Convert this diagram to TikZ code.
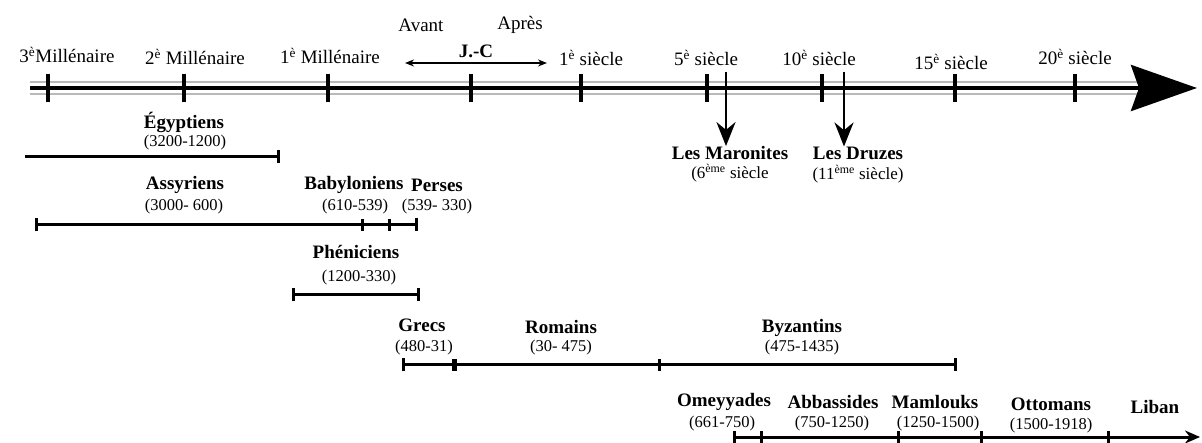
\documentclass[tikz,border=0pt]{standalone}
\usepackage{fontspec}
\setmainfont{Liberation Serif}
\usetikzlibrary{arrows.meta}
\newcommand{\expo}[1]{\textsuperscript{#1}}

\begin{document}
\begin{tikzpicture}[
  x=1pt, y=-1pt,
  era/.style={font=\fontsize{19}{22}\selectfont, inner sep=0pt},
  people/.style={font=\bfseries\fontsize{19}{22}\selectfont, inner sep=0pt},
  dates/.style={font=\fontsize{16.5}{19}\selectfont, inner sep=0pt},
  axis/.style={line width=4pt},
  rail/.style={line width=1.4pt, draw=gray!55},
  tick/.style={line width=4pt},
  span/.style={line width=3pt},
  bar/.style={line width=3pt},
  drop/.style={line width=2.6pt, -{Stealth[length=24pt, width=19pt]}},
]
\useasboundingbox (0,0) rectangle (1202,443);

% main axis
\coordinate (start) at (30,88);
\coordinate (tip) at (1197,88);
\draw[rail] ([yshift=6pt]start) -- ([yshift=6pt, xshift=-57pt]tip);
\draw[rail] ([yshift=-6pt]start) -- ([yshift=-6pt, xshift=-57pt]tip);
\draw[axis, -{Stealth[length=66pt, width=46pt, inset=8pt]}] (start) -- (tip);
\foreach \x in {48, 184, 328, 471, 581, 707, 822, 955, 1075}
  \draw[tick] (\x,74) -- (\x,102);

% eras
\node[era] (m3) at (67,55) {3\expo{è}Millénaire};
\node[era] (m2) at (195,57) {2\expo{è} Millénaire};
\node[era] (m1) at (330,56) {1\expo{è} Millénaire};
\node[era] (s1) at (591,58) {1\expo{è} siècle};
\node[era] (s5) at (706,58) {5\expo{è} siècle};
\node[era] (s10) at (819,58) {10\expo{è} siècle};
\node[era] (s15) at (951,62) {15\expo{è} siècle};
\node[era] (s20) at (1075,57) {20\expo{è} siècle};

% J.-C
\node[era] (avant) at (421,25) {Avant};
\node[era] (apres) at (520,25) {Après};
\node[people] (jc) at (476,51) {J.-C};
\coordinate (jcl) at (405,63);
\coordinate (jcr) at (547,63);
\draw[line width=1.5pt, {Stealth[length=9pt, width=7pt]}-{Stealth[length=9pt, width=7pt]}] (jcl) -- (jcr);

% communities
\coordinate (mar) at (726,72);
\coordinate (dru) at (844,72);
\node[people] (maro) at (730,153) {Les Maronites};
\node[dates, font=\fontsize{17}{19}\selectfont] (marod) at (730,173) {(6\expo{ème} siècle};
\node[people] (druz) at (858,153) {Les Druzes};
\node[dates, font=\fontsize{17}{19}\selectfont] (druzd) at (858,174) {(11\expo{ème} siècle)};
\draw[drop] (mar) -- (mar |- maro.north);
\draw[drop] (dru) -- (dru |- druz.north);

% peoples
\node[people] (egy) at (184,122) {Égyptiens};
\node[dates] (egyd) at (185,143) {(3200-1200)};
\draw[span, -{Bar[width=13pt]}] (25,157) -- (280,157);

\node[people] (ass) at (185,185) {Assyriens};
\node[dates] (assd) at (184,207) {(3000- 600)};
\node[people] (bab) at (354,185) {Babyloniens};
\node[dates] (babd) at (355,207) {(610-539)};
\node[people] (per) at (437,185) {Perses};
\node[dates] (perd) at (437,207) {(539- 330)};
\draw[span, {Bar[width=13pt]}-{Bar[width=13pt]}] (35,225) -- (418,225);
\foreach \x in {362, 389}
  \draw[bar] (\x,219) -- (\x,231);

\node[people] (phe) at (356,252) {Phéniciens};
\node[dates] (phed) at (359,278) {(1200-330)};
\draw[span, {Bar[width=13pt]}-{Bar[width=13pt]}] (292,295) -- (420,295);

\node[people] (gre) at (422,325) {Grecs};
\node[dates] (gred) at (424,348) {(480-31)};
\node[people] (rom) at (561,327) {Romains};
\node[dates] (romd) at (561,348) {(30- 475)};
\node[people] (byz) at (802,328) {Byzantins};
\node[dates] (byzd) at (802,348) {(475-1435)};
\draw[span, {Bar[width=13pt]}-{Bar[width=13pt]}] (402,365) -- (957,365);
\draw[line width=5pt] (454,359) -- (454,371);
\draw[bar] (659,359) -- (659,371);

\node[people] (ome) at (724,402) {Omeyyades};
\node[dates] (omed) at (722,424) {(661-750)};
\node[people] (abb) at (833,402) {Abbassides};
\node[dates] (abbd) at (832,424) {(750-1250)};
\node[people] (mam) at (935,402) {Mamlouks};
\node[dates] (mamd) at (938,424) {(1250-1500)};
\node[people] (ott) at (1051,404) {Ottomans};
\node[dates] (ottd) at (1051,426) {(1500-1918)};
\node[people] (lib) at (1155,407) {Liban};
\draw[span, {Bar[width=13pt]}-{Stealth[length=15pt, width=13pt]}] (733,437) -- (1200,437);
\foreach \x in {761, 898, 981, 1108}
  \draw[bar] (\x,431) -- (\x,443);
\end{tikzpicture}
\end{document}
